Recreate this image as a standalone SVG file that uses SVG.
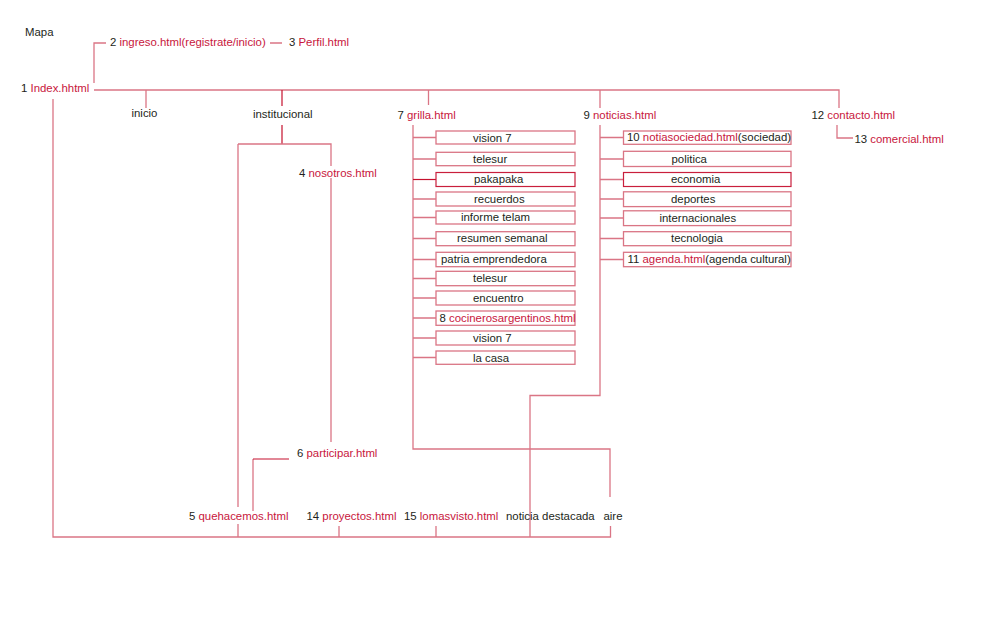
<svg xmlns="http://www.w3.org/2000/svg" width="987" height="636" viewBox="0 0 987 636">
<style>
text{font-family:"Liberation Sans",Arial,sans-serif;font-size:11.4px;fill:#231f20}
.r{fill:#c8163c}
.l{stroke:#da7585;stroke-width:1.3;fill:none}
.d{stroke:#c5112e;stroke-width:1.2;fill:none}
.b{fill:#fff;stroke:#da7585;stroke-width:1.3}
.bd{fill:#fff;stroke:#c91f3c;stroke-width:1.2}
</style>
<rect width="987" height="636" fill="#fff"/>
<g id="connectors">
<path class="l" d="M94 83V43H106M270 43H282"/>
<path class="l" d="M94 90H839V108"/>
<path class="l" d="M146 90V108"/>
<path class="d" d="M282 90V106M282 125V144"/>
<path class="l" d="M238 144H331V166M331 178V442M238 144V507M238 524V537"/>
<path class="l" d="M253 511V459"/>
<path class="d" d="M253 459H289"/>
<path class="l" d="M53 99V537H610.5V526M339 526V537M436 526V537"/>
<path class="l" d="M428.5 90V105M600 90V108"/>
<path class="l" d="M413 125V449H610V497"/>
<path class="l" d="M600 125V395.5H530V537"/>
<path class="l" d="M837 125V138H853"/>
<path class="l" d="M413 137.5H436M413 159H436M413 199H436M413 217.5H436M413 238.5H436M413 259.5H436M413 278.5H436M413 298H436M413 318H436M413 338H436M413 357.5H436"/>
<path class="d" d="M413 179.5H436"/>
<path class="l" d="M600 137.5H623.5M600 159H623.5M600 179.5H623.5M600 199H623.5M600 218H623.5M600 238.5H623.5M600 259.5H623.5"/>
</g>
<g id="title"><text x="25" y="36">Mapa</text></g>
<g id="n1"><text x="21" y="92">1 <tspan class="r">Index.hhtml</tspan></text></g>
<g id="n2"><text x="110" y="46">2 <tspan class="r">ingreso.html(registrate/inicio)</tspan></text></g>
<g id="n3"><text x="289" y="46">3 <tspan class="r">Perfil.html</tspan></text></g>
<g id="inicio"><text x="131.5" y="117">inicio</text></g>
<g id="institucional"><text x="253" y="117.5">institucional</text></g>
<g id="n4"><text x="299" y="176.5">4 <tspan class="r">nosotros.html</tspan></text></g>
<g id="n7"><text x="397.5" y="118.5">7 <tspan class="r">grilla.html</tspan></text></g>
<g id="n9"><text x="583.5" y="119">9 <tspan class="r">noticias.html</tspan></text></g>
<g id="n12"><text x="811.5" y="119">12 <tspan class="r">contacto.html</tspan></text></g>
<g id="n13"><text x="854.5" y="143">13 <tspan class="r">comercial.html</tspan></text></g>
<g id="g1"><rect class="b" x="436" y="131" width="139" height="13"/><text x="473" y="141.5">vision 7</text></g>
<g id="g2"><rect class="b" x="436" y="152.3" width="139" height="13.4"/><text x="473" y="162.5">telesur</text></g>
<g id="g3"><rect class="bd" x="436" y="172.5" width="139" height="14"/><text x="474" y="183">pakapaka</text></g>
<g id="g4"><rect class="b" x="436" y="192" width="139" height="14"/><text x="474" y="202.5">recuerdos</text></g>
<g id="g5"><rect class="b" x="436" y="211" width="139" height="13"/><text x="461" y="221">informe telam</text></g>
<g id="g6"><rect class="b" x="436" y="231.7" width="139" height="14"/><text x="457" y="242">resumen semanal</text></g>
<g id="g7"><rect class="b" x="436" y="252.3" width="139" height="14.4"/><text x="441" y="263">patria emprendedora</text></g>
<g id="g8"><rect class="b" x="436" y="271.3" width="139" height="14.4"/><text x="473" y="282">telesur</text></g>
<g id="g9"><rect class="b" x="436" y="291" width="139" height="14"/><text x="473" y="301.5">encuentro</text></g>
<g id="n8"><rect class="b" x="436" y="311" width="139" height="14.3"/><text x="439.5" y="321.5">8 <tspan class="r">cocinerosargentinos.html</tspan></text></g>
<g id="g11"><rect class="b" x="436" y="331" width="139" height="14"/><text x="473" y="341.5">vision 7</text></g>
<g id="g12"><rect class="b" x="436" y="351" width="139" height="13.3"/><text x="473" y="361.5">la casa</text></g>
<g id="n10"><rect class="b" x="623.5" y="131" width="167.5" height="13.3"/><text x="627" y="141">10 <tspan class="r">notiasociedad.html</tspan>(sociedad)</text></g>
<g id="k1"><rect class="b" x="623.5" y="151.3" width="167.5" height="15.2"/><text x="671.5" y="163">politica</text></g>
<g id="k2"><rect class="bd" x="623.5" y="172.5" width="167.5" height="14"/><text x="671" y="183">economia</text></g>
<g id="k3"><rect class="b" x="623.5" y="191.8" width="167.5" height="14.8"/><text x="671" y="202.5">deportes</text></g>
<g id="k4"><rect class="b" x="623.5" y="210.8" width="167.5" height="14.8"/><text x="659.5" y="221.5">internacionales</text></g>
<g id="k5"><rect class="b" x="623.5" y="231.7" width="167.5" height="14"/><text x="671" y="242">tecnologia</text></g>
<g id="n11"><rect class="b" x="623.5" y="252.3" width="167.5" height="14.4"/><text x="627.5" y="263">11 <tspan class="r">agenda.html</tspan>(agenda cultural)</text></g>
<g id="n6"><text x="297" y="457">6 <tspan class="r">participar.html</tspan></text></g>
<g id="n5"><text x="189" y="519.5">5 <tspan class="r">quehacemos.html</tspan></text></g>
<g id="n14"><text x="306.5" y="519.5">14 <tspan class="r">proyectos.html</tspan></text></g>
<g id="n15"><text x="404" y="519.5">15 <tspan class="r">lomasvisto.html</tspan></text></g>
<g id="destacada"><text x="506" y="519.5">noticia destacada</text></g>
<g id="aire"><text x="603.5" y="519.5">aire</text></g>
</svg>
